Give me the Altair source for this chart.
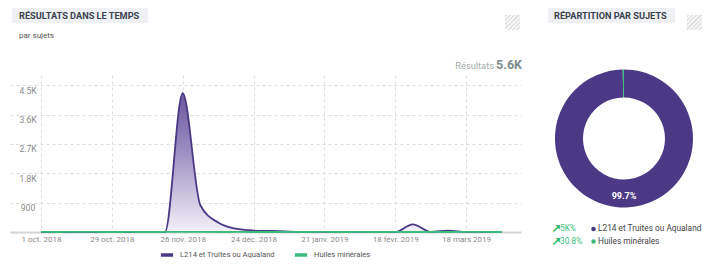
import altair as alt
import pandas as pd

SERIES = ["L214 et Truites ou Aqualand", "Huiles minérales"]
COLORS = ["#4b3986", "#3dba7c"]

WEEKS = [
    "2018-10-01", "2018-10-08", "2018-10-15", "2018-10-22", "2018-10-29",
    "2018-11-05", "2018-11-12", "2018-11-19", "2018-11-26", "2018-12-03",
    "2018-12-10", "2018-12-17", "2018-12-24", "2018-12-31", "2019-01-07",
    "2019-01-14", "2019-01-21", "2019-01-28", "2019-02-04", "2019-02-11",
    "2019-02-18", "2019-02-25", "2019-03-04", "2019-03-11", "2019-03-18",
    "2019-03-25", "2019-04-01",
]
L214 = [0, 0, 0, 0, 0, 0, 0, 0, 4260, 820, 290, 100, 45, 30, 12, 5, 3, 2, 2, 3,
        0, 235, 5, 40, 4, 2, 0]
HUILES = [1, 0, 2, 1, 0, 1, 0, 1, 2, 1, 0, 1, 0, 0, 1, 0, 2, 0, 1, 0, 1, 0, 1, 0,
          2, 1, 0]

TICK_DATES = ["2018-10-01", "2018-10-29", "2018-11-26", "2018-12-24",
              "2019-01-21", "2019-02-18", "2019-03-18"]
Y_TICKS = [900, 1800, 2700, 3600, 4500]
X_DOMAIN = ["2018-09-18T17:54:00", "2019-04-08T17:45:00"]
Y_MAX = 4816

DONUT_SHARE = [99.7, 0.3]
GROWTH = ["5K%", "30.8%"]
TOTAL_LABEL = "5.6K"

TITLE_LEFT = "RÉSULTATS DANS LE TEMPS"
SUBTITLE_LEFT = "par sujets"
TITLE_RIGHT = "RÉPARTITION PAR SUJETS"
RESULTS_WORD = "Résultats"

FONT = "Roboto"

def ms(s):
    return int(pd.Timestamp(s).value // 10**6)

rows = []
for i, d in enumerate(WEEKS):
    rows.append({"date": d, "series": SERIES[0], "value": L214[i]})
for i, d in enumerate(WEEKS):
    rows.append({"date": d, "series": SERIES[1], "value": HUILES[i]})
ts = pd.DataFrame(rows)

color_scale = alt.Scale(domain=SERIES, range=COLORS)

month_expr = ("['janv.','févr.','mars','avr.','mai','juin','juil.','août','sept.','oct.','nov.','déc.']"
              "[utcmonth(datum.value)]")
x_enc = alt.X(
    "date:T",
    scale=alt.Scale(type="utc", domain=[ms(X_DOMAIN[0]), ms(X_DOMAIN[1])], nice=False),
    axis=alt.Axis(
        title=None, values=[ms(d) for d in TICK_DATES],
        labelExpr="utcdate(datum.value) + ' ' + " + month_expr + " + ' ' + utcyear(datum.value)",
        grid=True, gridDash=[3, 3], gridColor="#dcdcdc", gridWidth=1,
        domain=True, domainColor="#d4d4d4", domainWidth=2,
        ticks=False, labelPadding=3, labelFontSize=8, labelColor="#8a8a8a",
        labelFont=FONT, labelFlush=False,
    ),
)
y_enc = alt.Y(
    "value:Q",
    scale=alt.Scale(domain=[0, Y_MAX], nice=False),
    axis=alt.Axis(
        title=None, values=Y_TICKS,
        labelExpr="datum.value >= 1000 ? format(datum.value / 1000, '.1f') + 'K' : format(datum.value, 'd')",
        grid=True, gridDash=[3, 3], gridColor="#dcdcdc", gridWidth=1,
        domain=False, ticks=False, labelAlign="center", labelBaseline="middle",
        labelPadding=-17.5, labelOffset=5, labelFontSize=8.5, labelColor="#8a8a8a",
        labelFont=FONT,
    ),
)

area_grad = alt.Gradient(
    gradient="linear",
    stops=[alt.GradientStop(color="#f3f0f8", offset=0),
           alt.GradientStop(color="#9a8bc0", offset=0.6),
           alt.GradientStop(color="#6a579c", offset=1)],
    x1=1, x2=1, y1=1, y2=0,
)

area = alt.Chart(ts).transform_filter(alt.datum.series == SERIES[0]).mark_area(
    interpolate="monotone", color=area_grad
).encode(x=x_enc, y=y_enc)

lines = alt.Chart(ts).mark_line(interpolate="monotone", strokeWidth=1.8).encode(
    x=x_enc, y=y_enc,
    color=alt.Color("series:N", scale=color_scale, sort=SERIES,
                    legend=alt.Legend(
                        title=None, orient="none", legendX=149, legendY=172,
                        direction="horizontal", symbolType="stroke",
                        symbolStrokeWidth=3.5, symbolSize=150, columnPadding=12,
                        labelFontSize=7.6, labelColor="#555", labelFont=FONT,
                        labelOffset=5,
                    )),
    order=alt.Order("series:N", sort="descending"),
)

one = pd.DataFrame({"k": [0]})

def box(x, x2, y, y2, fill):
    return alt.Chart(one).mark_rect(fill=fill).encode(
        x=alt.value(x), x2=alt.value(x2), y=alt.value(y), y2=alt.value(y2))

def text(t, x, y, size, color, weight="normal", align="left", baseline="middle"):
    return alt.Chart(pd.DataFrame({"t": [t]})).mark_text(
        font=FONT, fontSize=size, color=color, fontWeight=weight,
        align=align, baseline=baseline,
    ).encode(text="t:N", x=alt.value(x), y=alt.value(y))

stripe_stops = []
n = 7
for i in range(n):
    a = i / n
    b = (i + 0.5) / n
    c = (i + 1) / n
    stripe_stops += [alt.GradientStop(color="#e2e2e2", offset=a),
                     alt.GradientStop(color="#e2e2e2", offset=b),
                     alt.GradientStop(color="#f7f7f7", offset=b),
                     alt.GradientStop(color="#f7f7f7", offset=c)]
stripes = alt.Gradient(gradient="linear", stops=stripe_stops, x1=0, y1=0, x2=1, y2=1)

def hatch(x, y):
    return alt.Chart(one).mark_rect(color=stripes).encode(
        x=alt.value(x), x2=alt.value(x + 15), y=alt.value(y), y2=alt.value(y + 15))

# Donut
donut_df = pd.DataFrame({"series": SERIES, "share": DONUT_SHARE, "idx": [0, 1]})
donut = alt.Chart(donut_df).mark_arc(innerRadius=41, outerRadius=69).encode(
    theta=alt.Theta("share:Q", stack=True),
    color=alt.Color("series:N", scale=color_scale, sort=SERIES),
    order=alt.Order("idx:Q"),
    x=alt.value(614), y=alt.value(63.5),
)
donut_label = text(f"{DONUT_SHARE[0]}%", 614, 121, 9, "white", weight="bold", align="center")

leg_layers = []
leg_df = pd.DataFrame({"series": SERIES, "growth": GROWTH, "idx": [0, 1]})
for i, yv in enumerate([154, 166.5]):
    base = alt.Chart(leg_df).transform_filter(alt.datum.idx == i)
    leg_layers.append(base.mark_text(font="DejaVu Sans", fontSize=12, fontWeight="bold",
                                     color="#25b866", align="left", baseline="middle", text="↗")
                      .encode(x=alt.value(541), y=alt.value(yv)))
    leg_layers.append(base.mark_text(font=FONT, fontSize=8.3, color="#3cc47c",
                                     align="left", baseline="middle")
                      .encode(text="growth:N", x=alt.value(550), y=alt.value(yv)))
    leg_layers.append(base.mark_circle(size=20, opacity=1)
                      .encode(x=alt.value(583.5), y=alt.value(yv),
                              color=alt.Color("series:N", scale=color_scale, sort=SERIES)))
    leg_layers.append(base.mark_text(font=FONT, fontSize=8.3, color="#444",
                                     align="left", baseline="middle")
                      .encode(text="series:N", x=alt.value(588), y=alt.value(yv)))

layers = [
    box(2, 138, -67, -52, "#eef0f3"),
    text(TITLE_LEFT, 9, -59.5, 9.2, "#3b4250", weight="bold"),
    text(SUBTITLE_LEFT, 9, -39.5, 8, "#555"),
    box(538, 665, -67, -52, "#eef0f3"),
    text(TITLE_RIGHT, 544, -59.5, 9.2, "#3b4250", weight="bold"),
    hatch(495, -60),
    hatch(677, -60),
    text(TOTAL_LABEL, 512, -6.5, 12.5, "#7d8b8c", weight="bold", align="right", baseline="alphabetic"),
    text(RESULTS_WORD, 484, -6.5, 9.3, "#a3abab", align="right", baseline="alphabetic"),
    area,
    lines,
    donut,
    donut_label,
] + leg_layers

chart = alt.layer(*layers).properties(
    width=511, height=157,
    autosize=alt.AutoSizeParams(type="none"),
    padding={"left": 2, "top": 67, "right": 185, "bottom": 31},
    background="white",
).configure_view(strokeWidth=0)

chart.save("out.html", embed_options={"renderer": "svg", "actions": False})
